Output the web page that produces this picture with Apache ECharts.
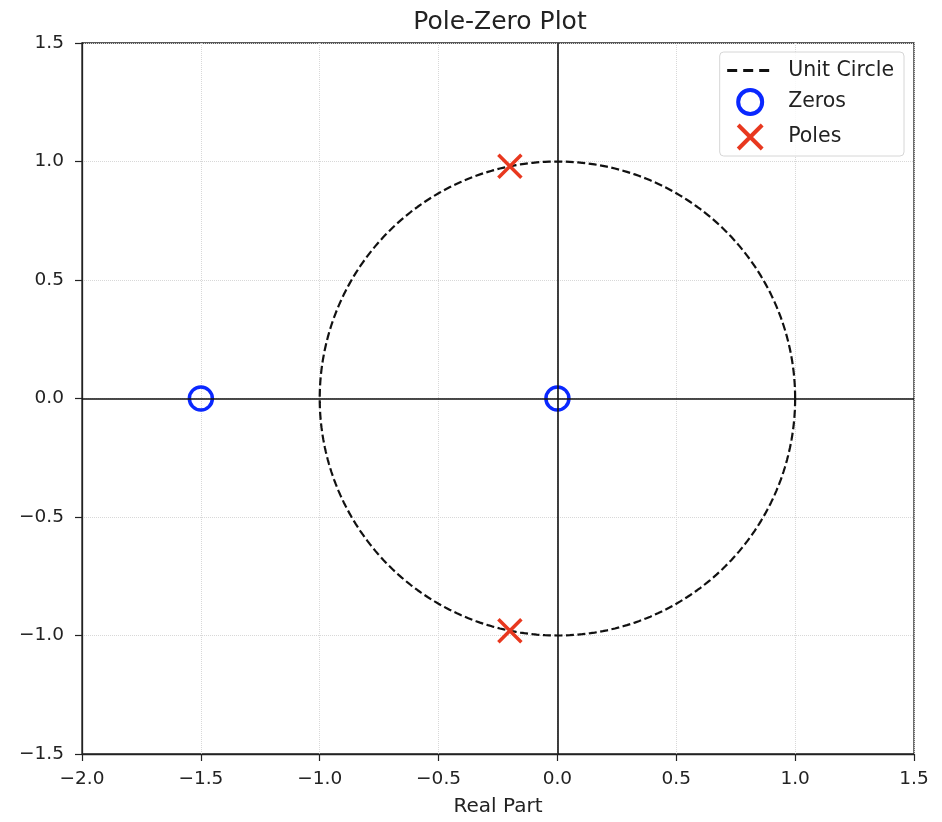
<!DOCTYPE html>
<html>
<head>
<meta charset="utf-8">
<script src="https://cdn.jsdelivr.net/npm/echarts@6/dist/echarts.min.js"></script>
<style>
  html, body { margin: 0; padding: 0; background: #fff; }
  #main { width: 942px; height: 822px; }
</style>
</head>
<body>
<div id="main"></div>
<script>
// 零点和极点
var zerosRe = [-1.5, 0.0]
var zerosIm = [0.0, 0.0]
var polesRe = [-0.2, -0.2]
var polesIm = [0.98, -0.98]
// 坐标轴刻度
var xTicks = [-2.0, -1.5, -1.0, -0.5, 0.0, 0.5, 1.0, 1.5]
var yTicks = [-1.5, -1.0, -0.5, 0.0, 0.5, 1.0, 1.5]
// 单位圆的采样点数
var circleSteps = 360

var zeros = []
for (var i = 0; i < zerosRe.length; i++) {
    zeros.push([zerosRe[i], zerosIm[i]])
}
var poles = []
for (var i = 0; i < polesRe.length; i++) {
    poles.push([polesRe[i], polesIm[i]])
}
// 单位圆 |z| = 1
var circle = []
for (var i = 0; i <= circleSteps; i++) {
    var t = 2 * Math.PI * i / circleSteps
    circle.push([Math.cos(t), Math.sin(t)])
}

function fmt(v) {
    return v.toFixed(1).replace('-', '\u2212')
}

var font = 'DejaVu Sans'
var zeroColor = '#0a28ff'
var poleColor = '#e8381f'
var myChart = echarts.init(document.getElementById('main'))
var option = {
    animation: false,
    backgroundColor: '#fff',
    title: {
        text: 'Pole-Zero Plot',
        left: 495,
        top: 5,
        textAlign: 'center',
        textStyle: { fontFamily: font, fontSize: 25, fontWeight: 'normal', color: '#222' }
    },
    grid: {
        left: 82, right: 28, top: 43, bottom: 66,
        show: true, borderColor: '#222', borderWidth: 1.3
    },
    legend: {
        right: 38,
        top: 52,
        orient: 'vertical',
        itemGap: 7,
        itemWidth: 46,
        itemHeight: 24,
        padding: [8, 10, 5, 6],
        backgroundColor: 'rgba(255,255,255,0.85)',
        borderColor: '#d6d6d6',
        borderWidth: 1,
        borderRadius: 4,
        textStyle: { fontFamily: font, fontSize: 20.5, color: '#222', padding: [0, 0, 0, 10] },
        data: [
            {
                name: 'Unit Circle',
                itemStyle: { color: 'rgba(0,0,0,0)', borderColor: 'rgba(0,0,0,0)', borderWidth: 0 },
                lineStyle: { color: '#111', width: 3, type: [10, 6] }
            },
            { name: 'Zeros', itemStyle: { color: 'rgba(0,0,0,0)', borderColor: zeroColor, borderWidth: 4 } },
            { name: 'Poles', itemStyle: { color: 'rgba(0,0,0,0)', borderColor: poleColor, borderWidth: 4 } }
        ]
    },
    xAxis: {
        type: 'value',
        min: -2.0, max: 1.5, interval: 0.5,
        name: 'Real Part',
        nameLocation: 'middle',
        nameGap: 43,
        nameTextStyle: { fontFamily: font, fontSize: 20, color: '#222' },
        axisLine: { onZero: false, lineStyle: { color: '#222', width: 1.3 } },
        axisTick: { show: true, length: 7, lineStyle: { color: '#222', width: 1.2 } },
        axisLabel: { fontFamily: font, fontSize: 18.5, color: '#222', margin: 16, formatter: fmt },
        splitLine: { show: true, lineStyle: { color: '#d8d8d8', type: 'dotted', width: 1 } }
    },
    yAxis: {
        type: 'value',
        min: -1.5, max: 1.5, interval: 0.5,
        axisLine: { show: true, onZero: false, lineStyle: { color: '#222', width: 1.3 } },
        axisTick: { show: true, length: 7, lineStyle: { color: '#222', width: 1.2 } },
        axisLabel: { fontFamily: font, fontSize: 18.5, color: '#222', margin: 18, formatter: fmt },
        splitLine: { show: true, lineStyle: { color: '#d8d8d8', type: 'dotted', width: 1 } }
    },
    series: [
        {
            name: 'Unit Circle',
            type: 'line',
            data: circle,
            showSymbol: false,
            symbol: 'none',
            color: '#111',
            lineStyle: { color: '#111', width: 2.2, type: [8, 3.5] },
            // 实轴和虚轴
            markLine: {
                silent: true,
                symbol: 'none',
                label: { show: false },
                lineStyle: { color: '#111', width: 1.6, type: 'solid' },
                data: [{ xAxis: 0 }, { yAxis: 0 }]
            },
            z: 2
        },
        {
            name: 'Zeros',
            type: 'scatter',
            data: zeros,
            symbol: 'circle',
            symbolSize: 23,
            itemStyle: { color: 'rgba(0,0,0,0)', borderColor: zeroColor, borderWidth: 3.5, opacity: 1 },
            z: 3
        },
        {
            name: 'Poles',
            type: 'scatter',
            data: poles,
            symbol: 'path://M0,0L10,10M10,0L0,10',
            symbolSize: 23,
            itemStyle: { color: 'rgba(0,0,0,0)', borderColor: poleColor, borderWidth: 3.5, opacity: 1 },
            z: 3
        }
    ]
}
myChart.setOption(option)
</script>
</body>
</html>
